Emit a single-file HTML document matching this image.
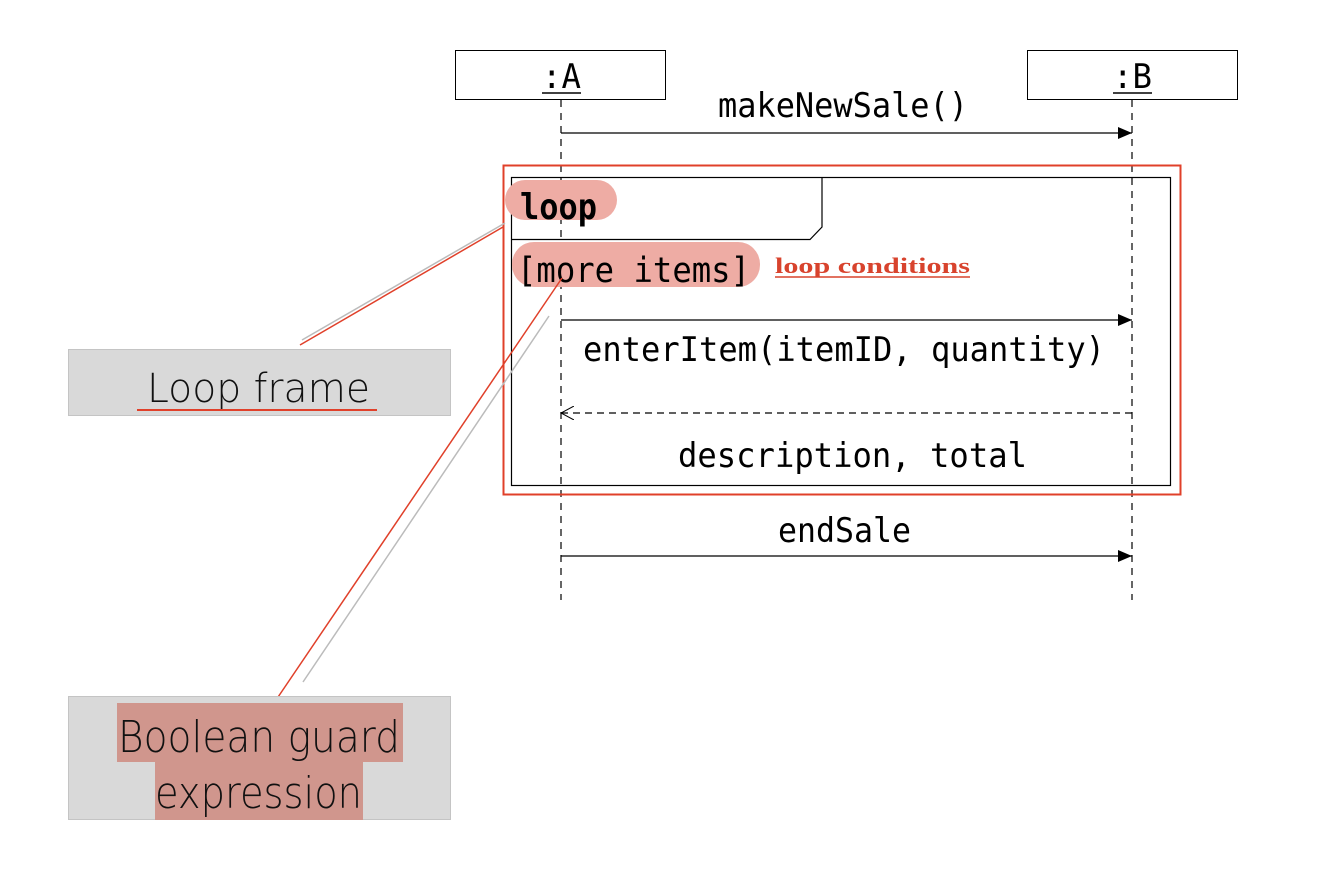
<!DOCTYPE html>
<html><head><meta charset="utf-8"><style>html,body{margin:0;padding:0;background:#fff}svg{display:block}</style></head>
<body>
<svg width="1338" height="892" xmlns="http://www.w3.org/2000/svg">
<defs>
<marker id="fa" markerWidth="14" markerHeight="12" refX="14" refY="6" orient="auto" markerUnits="userSpaceOnUse"><path d="M0,0 L14,6 L0,12 Z" fill="#000"/></marker>
<marker id="oa" markerWidth="14" markerHeight="14" refX="1" refY="7" orient="auto" markerUnits="userSpaceOnUse"><path d="M14,0 L1,7 L14,14" fill="none" stroke="#000" stroke-width="1"/></marker>
</defs>
<g font-family="DejaVu Sans Mono, Liberation Mono, monospace" fill="#000">
<line x1="561" y1="100" x2="561" y2="600" stroke="#000" stroke-width="1.2" stroke-dasharray="7,6"/>
<line x1="1132" y1="100" x2="1132" y2="600" stroke="#000" stroke-width="1.2" stroke-dasharray="7,6"/>
<rect x="455.5" y="50.5" width="210" height="49" fill="#fff" stroke="#000"/>
<rect x="1027.5" y="50.5" width="210" height="49" fill="#fff" stroke="#000"/>
<text x="542" y="88" font-size="34" textLength="39" lengthAdjust="spacingAndGlyphs">:A</text>
<line x1="542" y1="93" x2="581" y2="93" stroke="#000" stroke-width="1.5"/>
<text x="1113" y="88" font-size="34" textLength="39" lengthAdjust="spacingAndGlyphs">:B</text>
<line x1="1113" y1="93" x2="1152" y2="93" stroke="#000" stroke-width="1.5"/>
<text x="718" y="117" font-size="34" textLength="250" lengthAdjust="spacingAndGlyphs">makeNewSale()</text>
<line x1="561" y1="133" x2="1132" y2="133" stroke="#000" stroke-width="1.2" marker-end="url(#fa)"/>
<rect x="503.5" y="165.5" width="677" height="329" fill="none" stroke="#e0402a" stroke-width="2"/>
<rect x="511.5" y="177.5" width="659" height="308" fill="none" stroke="#000" stroke-width="1.2"/>
<path d="M511.5,239.5 L810,239.5 L822,227 L822,177.5" fill="none" stroke="#000" stroke-width="1.2"/>
<rect x="505" y="180" width="112" height="40" rx="20" fill="#eeaca4"/>
<text x="520" y="219" font-size="36" font-weight="bold" textLength="77" lengthAdjust="spacingAndGlyphs">loop</text>
<rect x="512" y="242" width="248" height="45" rx="22" fill="#eeaca4"/>
<text x="517" y="282" font-size="35" textLength="233" lengthAdjust="spacingAndGlyphs">[more items]</text>
<text x="775" y="273" font-family="Liberation Serif, serif" font-weight="bold" font-size="22" fill="#d8432d" textLength="195" lengthAdjust="spacingAndGlyphs">loop conditions</text>
<line x1="775" y1="277" x2="970" y2="277" stroke="#d8432d" stroke-width="1.5"/>
<line x1="561" y1="320" x2="1132" y2="320" stroke="#000" stroke-width="1.2" marker-end="url(#fa)"/>
<text x="583" y="361" font-size="34" textLength="522" lengthAdjust="spacingAndGlyphs">enterItem(itemID, quantity)</text>
<line x1="561" y1="413" x2="1132" y2="413" stroke="#000" stroke-width="1.2" stroke-dasharray="7,5" marker-start="url(#oa)"/>
<text x="678" y="467" font-size="34" textLength="349" lengthAdjust="spacingAndGlyphs">description, total</text>
<text x="778" y="542" font-size="34" textLength="133" lengthAdjust="spacingAndGlyphs">endSale</text>
<line x1="561" y1="556" x2="1132" y2="556" stroke="#000" stroke-width="1.2" marker-end="url(#fa)"/>
</g>
<line x1="505" y1="223" x2="302" y2="340" stroke="#bbb" stroke-width="1.5"/>
<line x1="503" y1="227" x2="300" y2="345" stroke="#e0402a" stroke-width="1.5"/>
<line x1="549" y1="316" x2="303" y2="682" stroke="#bbb" stroke-width="1.5"/>
<line x1="562" y1="278" x2="274" y2="703" stroke="#e0402a" stroke-width="1.5"/>
<rect x="68.5" y="349.5" width="382" height="66" fill="#d9d9d9" stroke="#c4c4c4"/>
<text x="147" y="402" font-family="DejaVu Sans, Liberation Sans, sans-serif" font-weight="200" font-size="40" fill="#111" textLength="223" lengthAdjust="spacingAndGlyphs">Loop frame</text>
<line x1="137" y1="410" x2="377" y2="410" stroke="#e0402a" stroke-width="2"/>
<rect x="68.5" y="696.5" width="382" height="123" fill="#d9d9d9" stroke="#c4c4c4"/>
<rect x="117" y="703" width="286" height="59" fill="#d0968d"/>
<rect x="155" y="762" width="208" height="58" fill="#d0968d"/>
<text x="118" y="752" font-family="DejaVu Sans, Liberation Sans, sans-serif" font-weight="200" font-size="44" fill="#111" textLength="282" lengthAdjust="spacingAndGlyphs">Boolean guard</text>
<text x="155" y="808" font-family="DejaVu Sans, Liberation Sans, sans-serif" font-weight="200" font-size="44" fill="#111" textLength="207" lengthAdjust="spacingAndGlyphs">expression</text>
</svg>
</body></html>
